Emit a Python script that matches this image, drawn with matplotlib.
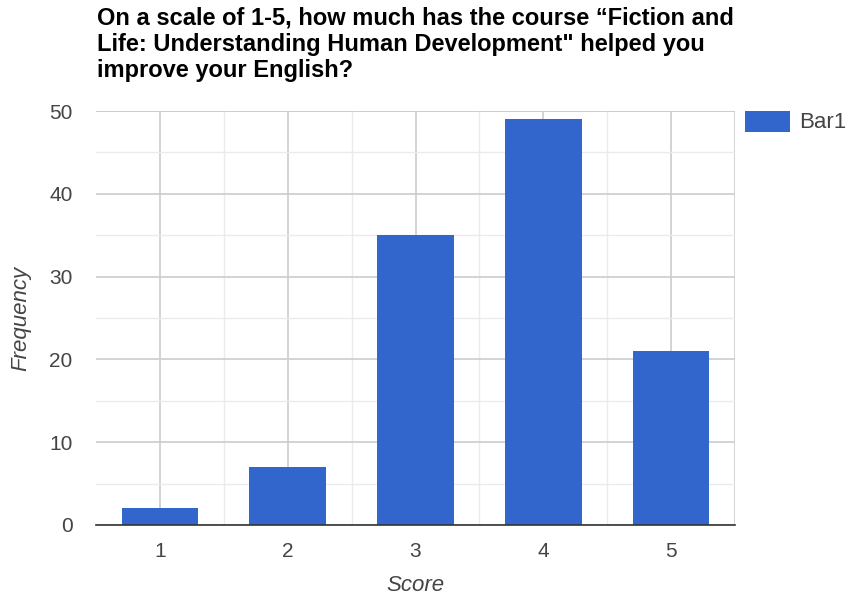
import matplotlib
matplotlib.use("Agg")
import matplotlib.pyplot as plt
from matplotlib.patches import Rectangle

categories = ["1", "2", "3", "4", "5"]
values = [2, 7, 35, 49, 21]
series_name = "Bar1"
title = "On a scale of 1-5, how much has the course \u201cFiction and\nLife: Understanding Human Development\" helped you\nimprove your English?"

plt.rcParams['font.family'] = ['Liberation Sans', 'DejaVu Sans']

W, H = 851, 598
fig = plt.figure(figsize=(W/100, H/100), dpi=100)
ax = fig.add_axes([96/W, 1-525/H, (735-96)/W, (525-111)/H])

x = list(range(1, len(categories)+1))
ax.bar(x, values, width=0.6, color="#3366CC", zorder=3)
ax.set_xlim(0.5, len(categories)+0.5)
ax.set_ylim(0, 50)
ax.set_yticks([0, 10, 20, 30, 40, 50])
ax.set_yticks([5, 15, 25, 35, 45], minor=True)
ax.set_xticks(x)
ax.set_xticklabels(categories)
ax.set_xticks([i+0.5 for i in range(1, len(categories))], minor=True)
ax.grid(True, which='major', color='#cccccc', linewidth=1.2, zorder=0)
ax.grid(True, which='minor', color='#ebebeb', linewidth=1.0, zorder=0)
for s in ['top', 'right', 'left']:
    ax.spines[s].set_visible(False)
ax.spines['bottom'].set_color('#333333')
ax.spines['bottom'].set_linewidth(1.2)
ax.spines['bottom'].set_zorder(4)
ax.axvline(len(categories)+0.5, color='#cccccc', linewidth=1.2, zorder=0)
ax.axhline(50, color='#cccccc', linewidth=1.2, zorder=0)
ax.tick_params(which='both', length=0)
ax.tick_params(axis='x', pad=12, labelsize=15, labelcolor='#444444')
ax.tick_params(axis='y', pad=17, labelsize=15, labelcolor='#444444')
ax.set_xlabel("Score", style='italic', fontsize=16, color='#444444', labelpad=10)
ax.set_ylabel("Frequency", style='italic', fontsize=16, color='#444444', labelpad=13)

fig.text(97/W, 1-7/H, title, ha='left', va='top', fontsize=17, fontweight='bold',
         color='#000000', linespacing=1.18)

# legend
fig.patches.append(Rectangle((745/W, 1-132/H), 45/W, 21/H, transform=fig.transFigure,
                             facecolor="#3366CC", edgecolor='none'))
fig.text(799/W, 1-122/H, series_name, ha='left', va='center', fontsize=16, color='#444444')

fig.savefig("out.png", dpi=100)
